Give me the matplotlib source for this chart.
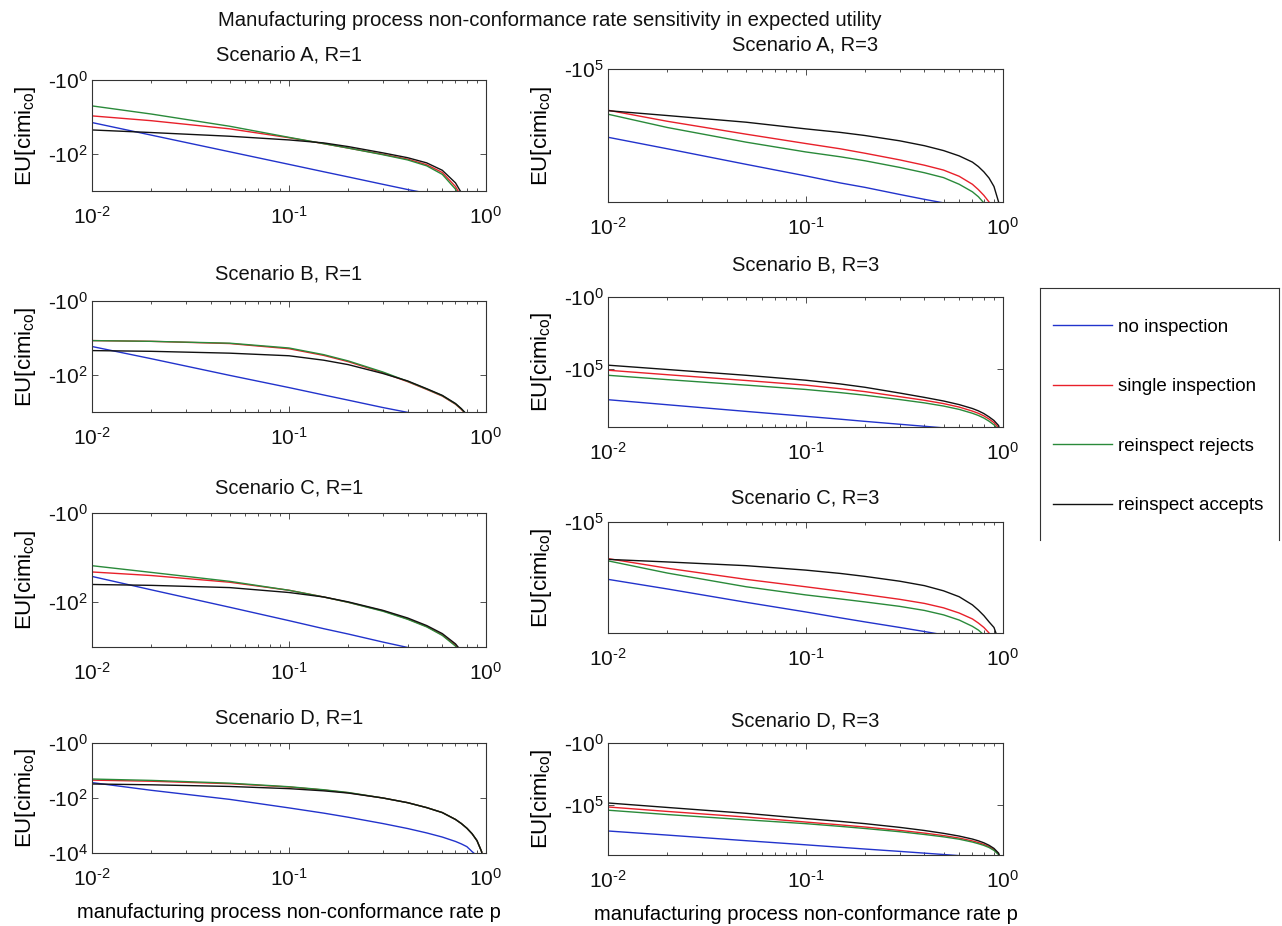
import numpy as np
import matplotlib
matplotlib.use('Agg')
import matplotlib.pyplot as plt
from matplotlib.ticker import FixedLocator, NullLocator, NullFormatter, LogLocator

plt.rcParams['font.family'] = ['Liberation Sans', 'DejaVu Sans']
plt.rcParams['mathtext.fontset'] = 'custom'
plt.rcParams['mathtext.rm'] = 'Liberation Sans'
plt.rcParams['mathtext.it'] = 'Liberation Sans:italic'
plt.rcParams['mathtext.bf'] = 'Liberation Sans:bold'

# non-conformance rate p
P = [0.01, 0.02, 0.05, 0.1, 0.15, 0.2, 0.3, 0.4, 0.5, 0.6, 0.7, 0.75, 0.8, 0.85, 0.9, 0.95, 0.99]

STRATEGIES = ['no inspection', 'single inspection', 'reinspect rejects', 'reinspect accepts']
COLORS = ['#2233cc', '#e8202a', '#2a8a3a', '#111111']

# log10(-EU) at each p, one row per strategy (same order as STRATEGIES)
LOG_A1 = [
    [1.15, 1.49, 1.94, 2.28, 2.48, 2.62, 2.82, 2.96, 3.06, 3.15, 3.22, 3.26, 3.29, 3.32, 3.34, 3.37, 3.39],
    [0.97, 1.10, 1.32, 1.56, 1.72, 1.84, 2.01, 2.14, 2.29, 2.50, 2.88, 3.15, 3.50, 3.90, 4.40, 4.90, 5.90],
    [0.70, 0.92, 1.25, 1.55, 1.72, 1.84, 2.02, 2.16, 2.32, 2.55, 2.95, 3.25, 3.60, 4.00, 4.50, 5.00, 6.00],
    [1.35, 1.42, 1.52, 1.62, 1.70, 1.80, 1.97, 2.10, 2.24, 2.44, 2.78, 3.05, 3.40, 3.80, 4.30, 4.80, 5.80],
]
LOG_A3 = [
    [6.54, 6.80, 7.15, 7.41, 7.57, 7.67, 7.83, 7.94, 8.02, 8.09, 8.15, 8.18, 8.20, 8.23, 8.25, 8.27, 8.28],
    [5.93, 6.18, 6.47, 6.68, 6.80, 6.90, 7.05, 7.17, 7.28, 7.42, 7.60, 7.72, 7.85, 8.00, 8.25, 8.70, 9.60],
    [6.02, 6.32, 6.65, 6.87, 6.98, 7.07, 7.22, 7.34, 7.45, 7.60, 7.77, 7.88, 8.02, 8.20, 8.45, 8.90, 9.80],
    [5.94, 6.05, 6.20, 6.35, 6.43, 6.50, 6.62, 6.73, 6.84, 6.96, 7.10, 7.20, 7.32, 7.46, 7.65, 8.00, 9.00],
]
LOG_B1 = [
    [1.23, 1.56, 2.01, 2.34, 2.54, 2.68, 2.88, 3.01, 3.12, 3.21, 3.28, 3.31, 3.34, 3.37, 3.39, 3.42, 3.44],
    [1.07, 1.09, 1.15, 1.29, 1.47, 1.64, 1.94, 2.18, 2.39, 2.57, 2.79, 2.93, 3.09, 3.30, 3.60, 4.10, 5.00],
    [1.07, 1.09, 1.14, 1.27, 1.45, 1.62, 1.92, 2.17, 2.38, 2.56, 2.78, 2.92, 3.08, 3.30, 3.60, 4.10, 5.00],
    [1.34, 1.36, 1.41, 1.48, 1.60, 1.72, 1.96, 2.16, 2.37, 2.55, 2.77, 2.91, 3.07, 3.30, 3.60, 4.10, 5.00],
]
LOG_B3 = [
    [7.11, 7.46, 7.92, 8.26, 8.46, 8.61, 8.81, 8.95, 9.06, 9.15, 9.23, 9.26, 9.29, 9.32, 9.34, 9.36, 9.38],
    [5.07, 5.38, 5.78, 6.10, 6.35, 6.55, 6.90, 7.15, 7.38, 7.62, 7.90, 8.05, 8.23, 8.45, 8.70, 9.05, 10.0],
    [5.42, 5.72, 6.10, 6.40, 6.62, 6.80, 7.10, 7.33, 7.55, 7.78, 8.05, 8.20, 8.38, 8.60, 8.85, 9.20, 10.1],
    [4.72, 5.02, 5.42, 5.76, 6.02, 6.25, 6.65, 6.95, 7.20, 7.45, 7.72, 7.88, 8.07, 8.30, 8.55, 8.90, 9.80],
]
LOG_C1 = [
    [1.42, 1.72, 2.11, 2.41, 2.59, 2.71, 2.89, 3.01, 3.11, 3.19, 3.25, 3.28, 3.31, 3.34, 3.36, 3.39, 3.41],
    [1.32, 1.40, 1.55, 1.73, 1.88, 2.00, 2.19, 2.37, 2.54, 2.73, 2.96, 3.12, 3.32, 3.57, 3.90, 4.40, 5.30],
    [1.18, 1.33, 1.53, 1.73, 1.88, 2.00, 2.20, 2.38, 2.55, 2.74, 2.98, 3.15, 3.35, 3.60, 3.90, 4.40, 5.30],
    [1.60, 1.62, 1.67, 1.78, 1.88, 1.99, 2.18, 2.35, 2.52, 2.70, 2.93, 3.09, 3.30, 3.55, 3.90, 4.40, 5.30],
]
LOG_C3 = [
    [6.55, 6.81, 7.17, 7.43, 7.59, 7.70, 7.85, 7.96, 8.05, 8.12, 8.18, 8.21, 8.23, 8.26, 8.28, 8.30, 8.32],
    [5.99, 6.25, 6.55, 6.75, 6.87, 6.96, 7.09, 7.20, 7.32, 7.46, 7.62, 7.73, 7.85, 8.00, 8.20, 8.60, 9.50],
    [6.05, 6.38, 6.75, 6.97, 7.08, 7.16, 7.28, 7.39, 7.51, 7.65, 7.82, 7.92, 8.05, 8.20, 8.40, 8.80, 9.70],
    [6.01, 6.08, 6.18, 6.30, 6.39, 6.47, 6.60, 6.72, 6.86, 7.02, 7.24, 7.38, 7.53, 7.70, 7.85, 8.20, 9.20],
]
LOG_D1 = [
    [1.44, 1.72, 2.05, 2.36, 2.55, 2.70, 2.93, 3.11, 3.27, 3.42, 3.58, 3.67, 3.77, 3.95, 4.10, 4.30, 4.80],
    [1.35, 1.39, 1.48, 1.60, 1.71, 1.81, 2.00, 2.17, 2.35, 2.53, 2.78, 2.93, 3.10, 3.30, 3.55, 3.95, 5.00],
    [1.31, 1.36, 1.46, 1.59, 1.70, 1.80, 2.00, 2.17, 2.35, 2.53, 2.78, 2.93, 3.10, 3.30, 3.55, 3.95, 5.00],
    [1.49, 1.52, 1.58, 1.66, 1.74, 1.82, 2.00, 2.17, 2.35, 2.53, 2.78, 2.93, 3.10, 3.30, 3.55, 3.95, 5.00],
]
LOG_D3 = [
    [7.07, 7.40, 7.85, 8.18, 8.38, 8.52, 8.71, 8.85, 8.96, 9.05, 9.12, 9.15, 9.18, 9.21, 9.23, 9.25, 9.27],
    [5.14, 5.50, 5.95, 6.35, 6.58, 6.75, 7.02, 7.24, 7.44, 7.64, 7.87, 8.00, 8.15, 8.33, 8.57, 8.92, 9.90],
    [5.40, 5.75, 6.17, 6.48, 6.70, 6.87, 7.13, 7.35, 7.54, 7.73, 7.96, 8.09, 8.23, 8.40, 8.63, 8.97, 10.0],
    [4.82, 5.18, 5.65, 6.07, 6.30, 6.48, 6.78, 7.03, 7.26, 7.48, 7.72, 7.86, 8.02, 8.22, 8.47, 8.85, 9.80],
]

W, H = 1282, 926
fig = plt.figure(figsize=(W / 100, H / 100), dpi=100)

def px_axes(x0, top, x1, bottom):
    return fig.add_axes([x0 / W, 1 - bottom / H, (x1 - x0) / W, (bottom - top) / H])

# title, data, y-range (log10 of -EU), y tick exponents, box in pixels (left, top, right, bottom), title centre y
panels = [
    ('Scenario A, R=1', LOG_A1, (0, 3), [0, 2], (92, 80, 486, 191), 55),
    ('Scenario A, R=3', LOG_A3, (5, 8), [5], (608, 69, 1003, 202), 45),
    ('Scenario B, R=1', LOG_B1, (0, 3), [0, 2], (92, 301, 486, 412), 274),
    ('Scenario B, R=3', LOG_B3, (0, 9), [0, 5], (608, 297, 1003, 427), 265),
    ('Scenario C, R=1', LOG_C1, (0, 3), [0, 2], (92, 513, 486, 647), 488),
    ('Scenario C, R=3', LOG_C3, (5, 8), [5], (608, 522, 1003, 633), 498),
    ('Scenario D, R=1', LOG_D1, (0, 4), [0, 2, 4], (92, 743, 486, 853), 718),
    ('Scenario D, R=3', LOG_D3, (0, 9), [0, 5], (608, 743, 1003, 855), 721),
]

lines = []
for i, (title, logs, ylim, yt, box, ty) in enumerate(panels):
    ax = px_axes(*box)
    for row, c in zip(logs, COLORS):
        ln, = ax.plot(P, 10.0 ** np.array(row), color=c, lw=1.0)
        if i == 0:
            lines.append(ln)
    ax.set_xscale('log')
    ax.set_yscale('log')
    ax.set_xlim(0.01, 1)
    # larger losses lower down, like a negative log axis
    ax.set_ylim(10.0 ** ylim[1], 10.0 ** ylim[0])
    ax.xaxis.set_major_locator(FixedLocator([0.01, 0.1, 1]))
    ax.set_xticklabels([r'$10^{\text{-}2}$', r'$10^{\text{-}1}$', r'$10^{0}$'])
    ax.xaxis.set_minor_locator(LogLocator(base=10, subs=np.arange(2, 10)))
    ax.xaxis.set_minor_formatter(NullFormatter())
    ax.yaxis.set_major_locator(FixedLocator([10.0 ** k for k in yt]))
    ax.set_yticklabels([r'-$10^{%d}$' % k for k in yt])
    ax.yaxis.set_minor_locator(NullLocator())
    ax.tick_params(which='both', direction='in', top=True, right=True, width=0.6, colors='#333333',
                   labelcolor='#111111')
    ax.tick_params(which='major', length=4, labelsize=15)
    ax.tick_params(which='minor', length=2.5)
    ax.tick_params(axis='x', pad=11)
    ax.tick_params(axis='y', pad=3)
    for s in ax.spines.values():
        s.set_color('#333333')
        s.set_linewidth(0.8)
    ax.set_ylabel(r'EU[cimi$_{\mathrm{co}}$]', fontsize=16, va='center')
    ax.yaxis.set_label_coords(-66 / (box[2] - box[0]), 0.5)
    xc = (box[0] + box[2]) / 2
    fig.text(xc / W, 1 - ty / H, title, ha='center', va='center', fontsize=14.5, color='#111111')
    if i >= 6:
        ax.set_xlabel('manufacturing process non-conformance rate p', fontsize=14.5, labelpad=9)

fig.text(550 / W, 1 - 20 / H, 'Manufacturing process non-conformance rate sensitivity in expected utility',
         ha='center', va='center', fontsize=14.6, color='#111111')

# legend box, open at the bottom
lax = px_axes(1040, 288, 1279, 540)
lax.set_xticks([])
lax.set_yticks([])
for s in lax.spines.values():
    s.set_color('#333333')
    s.set_linewidth(0.8)
lax.spines['bottom'].set_visible(False)
lax.legend(lines, STRATEGIES, loc='upper left', bbox_to_anchor=(0.0, 0.93), frameon=False,
           fontsize=13.5, handlelength=3.15, handletextpad=0.32, labelspacing=2.26,
           borderaxespad=0.0, borderpad=0.7)

fig.savefig('out.png', dpi=100, facecolor='white')
